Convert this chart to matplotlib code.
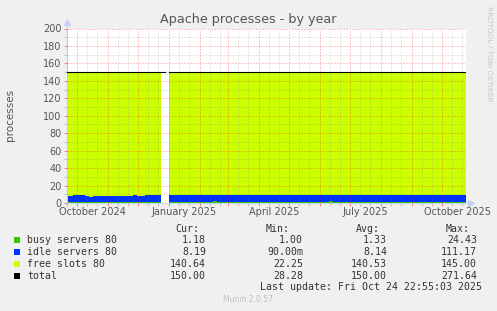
import matplotlib
matplotlib.use("Agg")
import matplotlib.pyplot as plt
import matplotlib.dates as mdates
from matplotlib.ticker import MultipleLocator
from matplotlib.patches import Rectangle
import numpy as np
import pandas as pd

plt.rcParams["lines.scale_dashes"] = False

W, H = 497, 311

# samples every 4 days starting 2024-09-19
start_date = "2024-09-19"
busy = [1.0, 1.1, 1.0, 1.2, 1.0, 1.1, 1.0, 0.9, 1.1, 1.0,
        1.2, 1.0, 1.1, 1.0, 0.9, 1.1, 1.0, 1.2, 1.1, 1.0,
        1.1, 1.2, 1.0, 1.1, 1.2, np.nan, 1.3, 1.4, 1.3, 1.5,
        1.4, 1.3, 1.6, 1.4, 1.3, 1.5, 1.4, 1.8, 1.3, 1.4,
        1.5, 1.3, 1.4, 1.6, 1.4, 1.3, 1.5, 1.4, 1.3, 1.7,
        1.4, 1.3, 1.5, 1.4, 1.6, 1.3, 1.4, 1.5, 1.3, 1.4,
        1.6, 1.4, 1.3, 1.5, 1.4, 1.3, 1.8, 1.4, 1.5, 1.3,
        1.4, 1.6, 1.3, 1.4, 1.5, 1.4, 1.3, 1.6, 1.4, 1.5,
        1.3, 1.4, 1.7, 1.4, 1.3, 1.5, 1.4, 1.6, 1.3, 1.4,
        1.5, 1.4, 1.3, 1.6, 1.4, 1.5, 1.3, 1.4, 1.6, 1.2,
        1.2, 1.2]
idle = [7.4, 7.3, 7.8, 8.0, 7.6, 7.1, 6.4, 6.7, 7.4, 7.2,
        6.8, 6.7, 7.0, 7.3, 6.9, 6.5, 7.1, 7.4, 7.2, 6.9,
        7.5, 7.7, 8.0, 7.9, 8.0, np.nan, 8.1, 7.8, 8.2, 7.9,
        7.8, 8.1, 8.0, 7.9, 8.1, 7.9, 8.0, 7.7, 8.2, 8.1,
        7.9, 8.2, 8.0, 7.8, 8.1, 8.2, 7.9, 8.1, 8.2, 7.8,
        8.1, 8.2, 7.9, 8.1, 7.9, 8.2, 8.1, 7.9, 8.2, 8.1,
        7.8, 8.1, 8.2, 7.9, 8.1, 8.2, 7.7, 8.1, 7.9, 8.2,
        8.1, 7.9, 8.2, 8.1, 7.9, 8.1, 8.2, 7.9, 8.1, 7.9,
        8.2, 8.1, 7.8, 8.1, 8.2, 7.9, 8.1, 7.9, 8.2, 8.1,
        7.9, 8.1, 8.2, 7.9, 8.1, 7.9, 8.2, 8.1, 7.9, 8.2,
        8.2, 8.2]
total = [150.0] * len(idle)
total[25] = np.nan

legend_rows = [
    ("busy servers 80", "#33cc00", "1.18", "1.00", "1.33", "24.43"),
    ("idle servers 80", "#0033ff", "8.19", "90.00m", "8.14", "111.17"),
    ("free slots 80", "#ccff00", "140.64", "22.25", "140.53", "145.00"),
    ("total", "#000000", "150.00", "28.28", "150.00", "271.64"),
]
x_labels = ["October 2024", "January 2025", "April 2025", "July 2025", "October 2025"]
x_label_dates = ["2024-10-16", "2025-01-16", "2025-04-16", "2025-07-16", "2025-10-16"]

dates = pd.date_range(start_date, periods=len(idle), freq="4D")
busy = np.array(busy)
idle = np.array(idle)
total = np.array(total)
free = total - busy - idle


def fx(px):
    return px / W


def fy(py):
    return 1 - py / H


fig = plt.figure(figsize=(W / 100, H / 100), dpi=100, facecolor="#f0f0f0")
ax = fig.add_axes([fx(67), fy(203), 399 / W, 174.5 / H])
ax.set_facecolor("white")

ax.fill_between(dates, 0, busy, step="post", color="#33cc00", lw=0, zorder=1)
ax.fill_between(dates, busy, busy + idle, step="post", color="#0033ff", lw=0, zorder=1)
ax.fill_between(dates, busy + idle, busy + idle + free, step="post",
                color="#ccff00", lw=0, zorder=1)
ax.step(dates, total, where="post", color="black", lw=0.8, zorder=3)

ax.set_xlim(pd.Timestamp("2024-09-21"), pd.Timestamp("2025-10-25"))
ax.set_ylim(0, 200)

ax.xaxis.set_major_locator(mdates.MonthLocator(bymonthday=1))
ax.xaxis.set_minor_locator(mdates.DayLocator(bymonthday=[11, 21]))
ax.xaxis.set_major_formatter(plt.NullFormatter())
ax.yaxis.set_major_locator(MultipleLocator(20))
ax.yaxis.set_minor_locator(MultipleLocator(10))

dot = (0, (0.72, 1.44))
ax.grid(which="major", color="#ff0000", alpha=0.45, lw=0.72, linestyle=dot, zorder=2)
ax.grid(which="minor", color="#808080", alpha=0.4, lw=0.72, linestyle=dot, zorder=2)
ax.set_axisbelow(False)

ax.tick_params(which="major", length=2, width=0.7, color="#f08080",
               labelsize=7, labelcolor="#555555", pad=2)
ax.tick_params(which="minor", length=2, width=0.7, color="#c0c0c0")

for lbl, d in zip(x_labels, x_label_dates):
    ax.text(pd.Timestamp(d), -9 / 174.5, lbl, transform=ax.get_xaxis_transform(),
            ha="center", va="center", fontsize=7, color="#555555")

for s in ax.spines.values():
    s.set_visible(False)
axis_col = "#c8d0f4"
ax.plot([0, 0], [0, 1.035], transform=ax.transAxes, color=axis_col, lw=0.8, clip_on=False)
ax.plot([0, 1.01], [0, 0], transform=ax.transAxes, color=axis_col, lw=0.8, clip_on=False)
ax.plot([0], [1.04], marker="^", ms=4, color=axis_col, transform=ax.transAxes, clip_on=False)
ax.plot([1.0125], [0], marker=">", ms=4, color=axis_col, transform=ax.transAxes, clip_on=False)

fig.text(fx(248), fy(19), "Apache processes - by year", ha="center", va="center",
         fontsize=9.2, color="#555555")
fig.text(fx(10), fy(115), "processes", rotation=90, ha="center", va="center",
         fontsize=7.5, color="#555555")
fig.text(fx(488.5), fy(53.5), "RRDTOOL / TOBI OETIKER", rotation=270, ha="center",
         va="center", fontsize=5.4, color="#c8c8c8")

mono = dict(family="DejaVu Sans Mono", fontsize=7.1, color="#333333", va="center")
for hdr, xr in zip(["Cur:", "Min:", "Avg:", "Max:"], [199, 290, 380, 470]):
    fig.text(fx(xr), fy(228.5), hdr, ha="right", **mono)

for i, (name, col, cur, mn, avg, mx) in enumerate(legend_rows):
    y = 240 + 12 * i
    fig.add_artist(Rectangle((fx(14), fy(y + 3)), 6 / W, 6 / H, transform=fig.transFigure,
                             facecolor=col, edgecolor="none"))
    fig.text(fx(27), fy(y), name, ha="left", **mono)
    for val, xr in zip([cur, mn, avg, mx], [206, 303, 387, 477]):
        fig.text(fx(xr), fy(y), val, ha="right", **mono)

fig.text(fx(482), fy(287), "Last update: Fri Oct 24 22:55:03 2025", ha="right", **mono)
fig.text(fx(248), fy(300), "Munin 2.0.57", ha="center", va="center",
         fontsize=5.5, color="#c0c0c0")

fig.savefig("out.png", dpi=100, facecolor=fig.get_facecolor())
